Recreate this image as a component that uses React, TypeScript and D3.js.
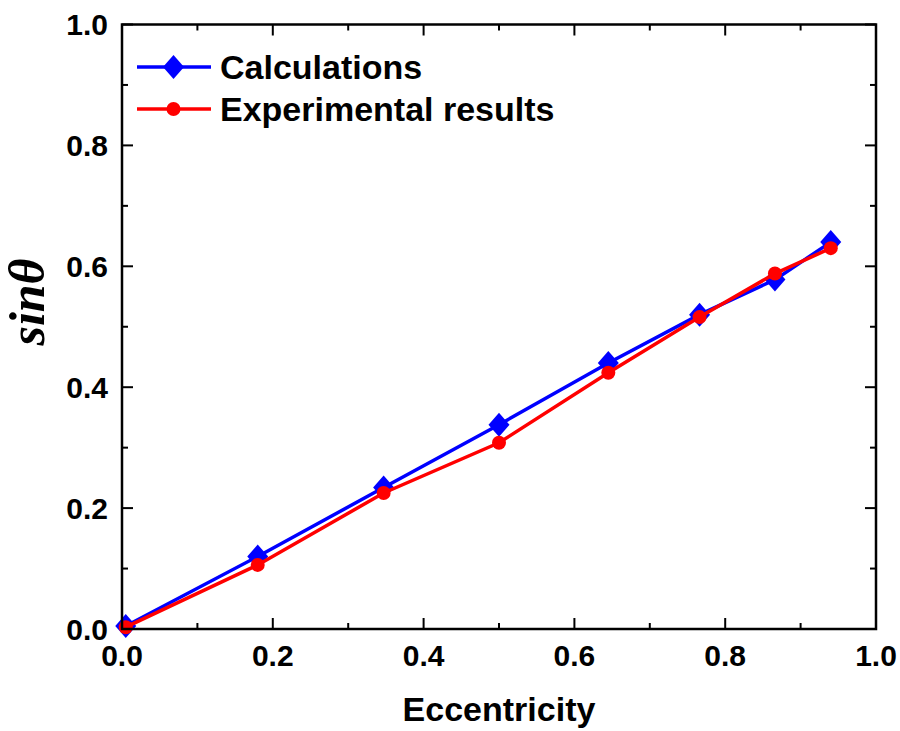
import React from "react";
import * as d3 from "d3";

const xCalc = [0.005, 0.18, 0.347, 0.5, 0.645, 0.766, 0.866, 0.94];
const yCalc = [0.005, 0.12, 0.234, 0.338, 0.44, 0.52, 0.578, 0.64];
const xExp = [0.005, 0.18, 0.347, 0.5, 0.645, 0.766, 0.866, 0.94];
const yExp = [0.003, 0.106, 0.225, 0.308, 0.424, 0.516, 0.588, 0.63];
const xTicks = [0, 0.2, 0.4, 0.6, 0.8, 1.0];
const yTicks = [0, 0.2, 0.4, 0.6, 0.8, 1.0];
const minorTicks = [0.1, 0.3, 0.5, 0.7, 0.9];
const seriesNames = ["Calculations", "Experimental results"];
const xTitle = "Eccentricity";
const yTitle = "sinθ";

const W = 900, H = 731;
const L = 122, R = 876, T = 24.5, B = 629;

export default function App() {
  const x = d3.scaleLinear().domain([0, 1]).range([L, R]);
  const y = d3.scaleLinear().domain([0, 1]).range([B, T]);
  const line = d3.line<[number, number]>().x(d => x(d[0])).y(d => y(d[1]));
  const calc: [number, number][] = xCalc.map((v, i) => [v, yCalc[i]]);
  const exp: [number, number][] = xExp.map((v, i) => [v, yExp[i]]);
  const font = "'Liberation Sans', Arial, sans-serif";
  const MAJ = 11, MIN = 6;
  const diamond = (cx: number, cy: number) =>
    `M${cx},${cy - 12}L${cx + 10.5},${cy}L${cx},${cy + 12}L${cx - 10.5},${cy}Z`;
  return (
    <div style={{ position: "absolute", left: 0, top: 0 }}>
      <svg width={W} height={H} style={{ display: "block", background: "#fff" }}>
        {/* data */}
        <path d={line(calc) || ""} fill="none" stroke="#0000ff" strokeWidth={3.5} />
        {calc.map((d, i) => (
          <path key={"c" + i} d={diamond(x(d[0]), y(d[1]))} fill="#0000ff" />
        ))}
        <path d={line(exp) || ""} fill="none" stroke="#ff0000" strokeWidth={3.5} />
        {exp.map((d, i) => (
          <circle key={"e" + i} cx={x(d[0])} cy={y(d[1])} r={7} fill="#ff0000" />
        ))}
        {/* ticks */}
        <g stroke="#000" strokeWidth={2}>
          {xTicks.map((t, i) => (
            <g key={"xt" + i}>
              <line x1={x(t)} x2={x(t)} y1={B} y2={B - MAJ} />
              <line x1={x(t)} x2={x(t)} y1={T} y2={T + MAJ} />
            </g>
          ))}
          {minorTicks.map((t, i) => (
            <g key={"xm" + i}>
              <line x1={x(t)} x2={x(t)} y1={B} y2={B - MIN} />
              <line x1={x(t)} x2={x(t)} y1={T} y2={T + MIN} />
              <line x1={L} x2={L + MIN} y1={y(t)} y2={y(t)} />
              <line x1={R} x2={R - MIN} y1={y(t)} y2={y(t)} />
            </g>
          ))}
          {yTicks.map((t, i) => (
            <g key={"yt" + i}>
              <line x1={L} x2={L + MAJ} y1={y(t)} y2={y(t)} />
              <line x1={R} x2={R - MAJ} y1={y(t)} y2={y(t)} />
            </g>
          ))}
        </g>
        <rect x={L} y={T} width={R - L} height={B - T} fill="none" stroke="#000" strokeWidth={2.5} />
        {/* tick labels */}
        <g fontFamily={font} fontWeight="bold" fontSize={30} fill="#000">
          {xTicks.map((t, i) => (
            <text key={"xl" + i} x={x(t)} y={B + 37} textAnchor="middle">
              {t.toFixed(1)}
            </text>
          ))}
          {yTicks.map((t, i) => (
            <text key={"yl" + i} x={L - 14} y={y(t)} dy="0.35em" textAnchor="end">
              {t.toFixed(1)}
            </text>
          ))}
        </g>
        {/* axis titles */}
        <text x={(L + R) / 2} y={721} textAnchor="middle" fontFamily={font} fontWeight="bold" fontSize={34}>
          {xTitle}
        </text>
        <text
          transform={`translate(44,${302}) rotate(-90)`}
          textAnchor="middle"
          fontFamily="'Liberation Serif', 'DejaVu Serif', serif"
          fontStyle="italic"
          fontWeight="bold"
          fontSize={50}
        >
          {yTitle}
        </text>
        {/* legend */}
        <g>
          <line x1={137} x2={211} y1={67} y2={67} stroke="#0000ff" strokeWidth={3.5} />
          <path d={diamond(173.5, 67)} fill="#0000ff" />
          <text x={220} y={67} dy="0.35em" fontFamily={font} fontWeight="bold" fontSize={34}>
            {seriesNames[0]}
          </text>
          <line x1={137} x2={211} y1={109} y2={109} stroke="#ff0000" strokeWidth={3.5} />
          <circle cx={173.5} cy={109} r={7} fill="#ff0000" />
          <text x={220} y={109} dy="0.35em" fontFamily={font} fontWeight="bold" fontSize={34}>
            {seriesNames[1]}
          </text>
        </g>
      </svg>
    </div>
  );
}
